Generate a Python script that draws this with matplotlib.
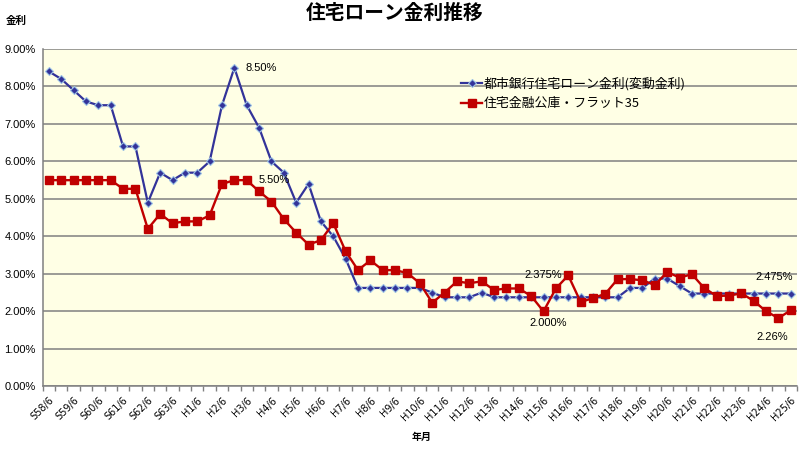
import matplotlib
matplotlib.use("Agg")
import matplotlib.pyplot as plt
from matplotlib.ticker import FixedLocator, FuncFormatter

plt.rcParams['font.family'] = ['Noto Sans CJK JP', 'DejaVu Sans']
LATIN = ['Liberation Sans', 'DejaVu Sans']

# half-year categories from S58/6 to H25/6 (61 points), labels every year
years = ['S58', 'S59', 'S60', 'S61', 'S62', 'S63'] + ['H%d' % i for i in range(1, 26)]
year_labels = [y + '/6' for y in years]

# 都市銀行住宅ローン金利(変動金利)
city_bank = [8.4, 8.2, 7.9, 7.6, 7.5, 7.5, 6.4, 6.4, 4.9, 5.7,
             5.5, 5.7, 5.7, 6.0, 7.5, 8.5, 7.5, 6.9, 6.0, 5.7,
             4.9, 5.4, 4.4, 4.0, 3.4, 2.625, 2.625, 2.625, 2.625, 2.625,
             2.625, 2.5, 2.375, 2.375, 2.375, 2.5, 2.375, 2.375, 2.375, 2.375,
             2.375, 2.375, 2.375, 2.375, 2.375, 2.375, 2.375, 2.625, 2.625, 2.875,
             2.875, 2.675, 2.475, 2.475, 2.475, 2.475, 2.475, 2.475, 2.475, 2.475,
             2.475]

# 住宅金融公庫・フラット35
flat35 = [5.5, 5.5, 5.5, 5.5, 5.5, 5.5, 5.27, 5.27, 4.2, 4.6,
          4.35, 4.4, 4.4, 4.56, 5.4, 5.5, 5.5, 5.2, 4.93, 4.46,
          4.1, 3.78, 3.9, 4.35, 3.6, 3.1, 3.36, 3.1, 3.1, 3.02,
          2.75, 2.23, 2.5, 2.8, 2.75, 2.8, 2.57, 2.61, 2.61, 2.41,
          2.0, 2.61, 2.96, 2.25, 2.35, 2.47, 2.86, 2.86, 2.83, 2.7,
          3.05, 2.9, 2.99, 2.62, 2.41, 2.42, 2.48, 2.28, 2.0, 1.82,
          2.03]

x = list(range(len(city_bank)))

fig = plt.figure(figsize=(8.08, 4.51), dpi=100)
ax = fig.add_axes([42.7 / 808, 1 - 386.3 / 451, (797 - 42.7) / 808, (386.3 - 49) / 451])
ax.set_facecolor('#FFFFE5')

ax.plot(x, city_bank, color='#333399', lw=1.6, marker='D', ms=3.6,
        mfc='#333399', mec='#9DC3E6', mew=0.8, zorder=2,
        label='都市銀行住宅ローン金利(変動金利)')
ax.plot(x, flat35, color='#C00000', lw=1.7, marker='s', ms=5.6,
        mfc='#C00000', mec='#C00000', zorder=3,
        label='住宅金融公庫・フラット35')

ax.set_xlim(-0.5, len(x) - 0.5)
ax.set_ylim(0, 9)
ax.set_yticks(range(0, 10))
ax.yaxis.set_major_formatter(FuncFormatter(lambda v, p: '%.2f%%' % v))
ax.grid(axis='y', color='#808080', lw=1.1)
ax.set_axisbelow(True)
ax.tick_params(axis='y', length=0, pad=5)
for t in ax.get_yticklabels():
    t.set_family(LATIN)
    t.set_fontsize(8)

ax.set_xticks(range(0, len(x), 2))
ax.set_xticklabels(year_labels, rotation=45, ha='right', va='top',
                   rotation_mode='anchor', fontsize=7, family=['DejaVu Sans'])
ax.tick_params(axis='x', length=0, pad=6.5)
ax.xaxis.set_minor_locator(FixedLocator([i - 0.5 for i in range(len(x) + 1)]))
ax.tick_params(axis='x', which='minor', length=3.5, color='#808080', width=1)

for s in ['top', 'right']:
    ax.spines[s].set_visible(False)
for s in ['left', 'bottom']:
    ax.spines[s].set_color('#808080')
    ax.spines[s].set_linewidth(1.1)

# annotations
def note(txt, xi, yv, dx, dy, ha='left'):
    ax.annotate(txt, xy=(xi, yv), xytext=(dx, dy), textcoords='offset points',
                ha=ha, va='center', fontsize=8, family=LATIN, zorder=5)

note('8.50%', 15, city_bank[15], 8, 0)
note('5.50%', 16, flat35[16], 8.5, 0)
note('2.375%', 40, city_bank[40], 0, 16, ha='center')
note('2.000%', 40, flat35[40], 3.6, -8.6, ha='center')
note('2.475%', 60, city_bank[60], -12, 11.7, ha='center')
note('2.26%', 60, flat35[60], -13.3, -19.4, ha='center')

fig.text(395 / 808, 1 - 13 / 451, '住宅ローン金利推移', ha='center', va='center',
         fontsize=14.2, fontweight='bold')
fig.text(6 / 808, 1 - 21 / 451, '金利', ha='left', va='center',
         fontsize=7.6, fontweight='bold')
fig.text(422 / 808, 1 - 437 / 451, '年月', ha='center', va='center',
         fontsize=7.2, fontweight='bold')

ax.legend(loc='upper left', bbox_to_anchor=(455 / 808, 1 - 71 / 451),
          bbox_transform=fig.transFigure, frameon=False, fontsize=9.3,
          handlelength=1.6, handletextpad=0.1, borderpad=0, labelspacing=0.5)

fig.savefig('out.png', dpi=100)
